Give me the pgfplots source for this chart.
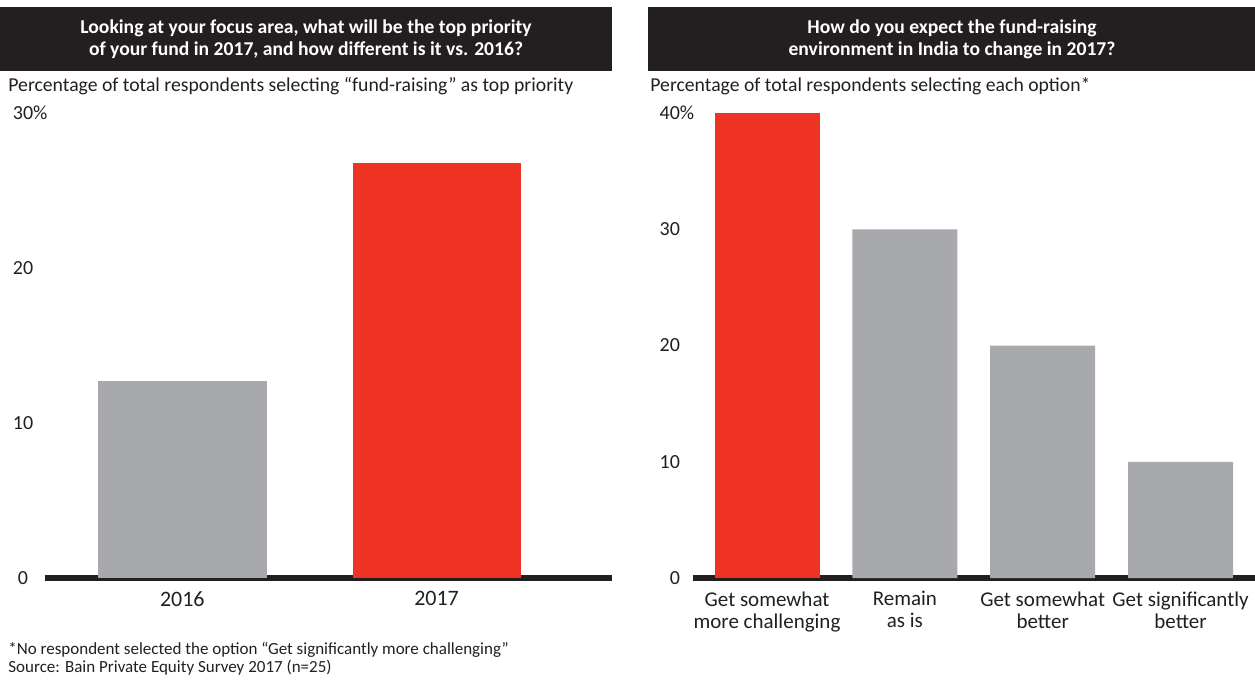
\documentclass[border=0pt]{standalone}
\usepackage{fontspec}
\setmainfont{Carlito}
\usepackage{pgfplots}
\pgfplotsset{compat=1.18}
\definecolor{bainred}{HTML}{EE3224}
\definecolor{baingray}{HTML}{A7A9AC}
\definecolor{hdr}{HTML}{231F20}
\begin{document}
\begin{tikzpicture}
\path[use as bounding box] (0,0) rectangle (627.5pt,-340pt);
% headers
\fill[hdr] (0,-3.5pt) rectangle (306pt,-35.5pt);
\node[text=white, font=\bfseries\fontsize{9.8}{11}\selectfont, align=center] at (153pt,-19.5pt) {Looking at your focus area, what will be the top priority\\ of your fund in 2017, and how different is it vs. 2016?};
\fill[hdr] (324pt,-3.5pt) rectangle (627.5pt,-35.5pt);
\node[text=white, font=\bfseries\fontsize{9.8}{11}\selectfont, align=center] at (476pt,-19.5pt) {How do you expect the fund-raising\\ environment in India to change in 2017?};
% subtitles
\node[anchor=west, inner sep=0pt, font=\fontsize{9.85}{11}\selectfont, text=hdr] at (4pt,-43pt) {Percentage of total respondents selecting “fund-raising” as top priority};
\node[anchor=west, inner sep=0pt, font=\fontsize{9.85}{11}\selectfont, text=hdr] at (325pt,-43pt) {Percentage of total respondents selecting each option*};
% footnotes
\node[anchor=west, inner sep=0pt, font=\fontsize{8.5}{9}\selectfont, text=hdr] at (4pt,-325pt) {*No respondent selected the option “Get significantly more challenging”};
\node[anchor=west, inner sep=0pt, font=\fontsize{8.5}{9}\selectfont, text=hdr] at (4pt,-334pt) {Source: Bain Private Equity Survey 2017 (n=25)};

\pgfplotsset{
  bainaxis/.style={
    scale only axis,
    axis x line*=bottom, axis y line*=left,
    x axis line style={line width=3pt, draw=hdr, -},
    y axis line style={draw=none},
    major tick length=0pt,
    ymin=0,
    yticklabel style={font=\fontsize{10}{11}\selectfont, text=hdr},
    xticklabel style={font=\fontsize{10.5}{11}\selectfont, text=hdr, align=center, anchor=north, yshift=-3.2pt},
    clip=false,
  }
}
% left
\begin{axis}[bainaxis,
  at={(22.5pt,-289pt)}, anchor=south west,
  width=283.5pt, height=232.5pt,
  ymax=30, xmin=-0.54, xmax=1.69,
  ytick={0,10,20,30}, yticklabels={0,10,20,30\rlap{\%}},
  yticklabel style={anchor=center, xshift=-11pt},
  xtick={0,1}, xticklabels={2016,2017},
  xticklabel style={font=\fontsize{11}{11}\selectfont},
]
\addplot[ybar, bar width=84.5pt, fill=baingray, draw=none] coordinates {(0,12.7)};
\addplot[ybar, bar width=84pt, fill=bainred, draw=none] coordinates {(1,26.8)};
\end{axis}
% right
\begin{axis}[bainaxis,
  at={(346.5pt,-289pt)}, anchor=south west,
  width=281pt, height=232.5pt,
  ymax=40, xmin=-0.537, xmax=3.54,
  ytick={0,10,20,30,40}, yticklabels={0,10,20,30,40\rlap{\%}},
  yticklabel style={anchor=east, xshift=-3pt},
  xtick={0,1,2,3}, xticklabels={Get somewhat\\more challenging,Remain\\as is,Get somewhat\\better,Get significantly\\better},
]
\addplot[ybar, bar width=52.5pt, fill=bainred, draw=none] coordinates {(0,40)};
\addplot[ybar, bar width=52.5pt, fill=baingray, draw=none] coordinates {(1,30) (2,20) (3,10)};
\end{axis}
\end{tikzpicture}
\end{document}
